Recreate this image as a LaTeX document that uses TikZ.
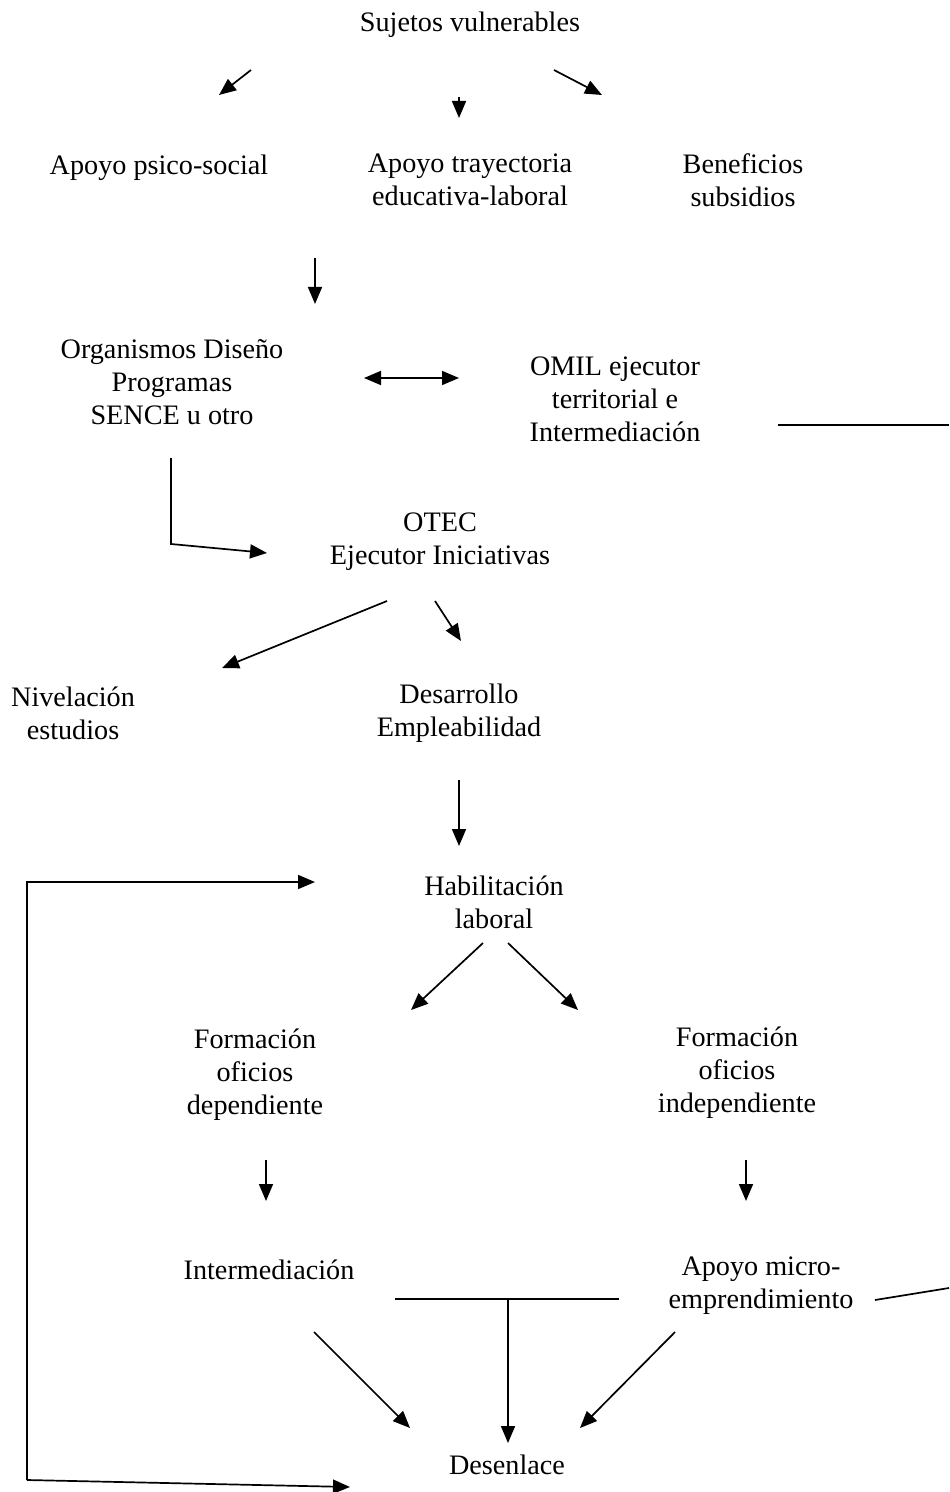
\documentclass[tikz,border=0pt]{standalone}
\usepackage{fontspec}
\setmainfont{Liberation Serif}
\usetikzlibrary{arrows.meta}
\begin{document}
\begin{tikzpicture}[x=0.5pt,y=-0.5pt,
  lbl/.style={align=center,inner sep=0pt,font=\fontsize{14.1pt}{16.5pt}\selectfont},
  conn/.style={line width=0.85pt},
  arr/.style={conn,-{Triangle[length=8.5pt,width=7pt]}},
  darr/.style={conn,{Triangle[length=8.5pt,width=7pt]}-{Triangle[length=8.5pt,width=7pt]}}]
\useasboundingbox (0,0) rectangle (949,1492);
% nodes
\node[lbl] (sv) at (470,25) {Sujetos vulnerables};
\node[lbl] (aps) at (159,168) {Apoyo psico-social};
\node[lbl] (ate) at (470,180) {Apoyo trayectoria\\educativa-laboral};
\node[lbl] (ben) at (743,180) {Beneficios\\subsidios};
\node[lbl] (org) at (172,382) {Organismos Diseño\\Programas\\SENCE u otro};
\node[lbl] (omil) at (615,399) {OMIL ejecutor\\territorial e\\Intermediación};
\node[lbl] (otec) at (440,542) {OTEC\\Ejecutor Iniciativas};
\node[lbl] (niv) at (73,713) {Nivelación\\estudios};
\node[lbl] (des) at (459,713) {Desarrollo\\Empleabilidad};
\node[lbl] (hab) at (494,902) {Habilitación\\laboral};
\node[lbl] (fod) at (255,1075) {Formación\\oficios\\dependiente};
\node[lbl] (foi) at (737,1073) {Formación\\oficios\\independiente};
\node[lbl] (int) at (269,1270) {Intermediación};
\node[lbl] (amic) at (761,1286) {Apoyo micro-\\emprendimiento};
\node[lbl] (dese) at (507,1465) {Desenlace};
% connector end points
\coordinate (a1s) at (251,70);  \coordinate (a1e) at (219,95);
\coordinate (a2s) at (459,97);  \coordinate (a2e) at (459,118);
\coordinate (a3s) at (554,70);  \coordinate (a3e) at (602,95);
\coordinate (a4s) at (315,258); \coordinate (a4e) at (315,304);
\coordinate (d1s) at (364,378); \coordinate (d1e) at (459,378);
\coordinate (r1s) at (778,425); \coordinate (r1e) at (949,425);
\coordinate (b1s) at (171,458); \coordinate (b1m) at (171,544); \coordinate (b1e) at (267,553);
\coordinate (a5s) at (387,601); \coordinate (a5e) at (222,668);
\coordinate (a6s) at (435,601); \coordinate (a6e) at (461,641);
\coordinate (a7s) at (459,780); \coordinate (a7e) at (459,846);
\coordinate (lt) at (27,882); \coordinate (lte) at (315,882);
\coordinate (lb) at (27,1480); \coordinate (lbe) at (350,1487);
\coordinate (a8s) at (483,943); \coordinate (a8e) at (411,1010);
\coordinate (a9s) at (508,943); \coordinate (a9e) at (578,1010);
\coordinate (a10s) at (266,1160); \coordinate (a10e) at (266,1201);
\coordinate (a11s) at (746,1160); \coordinate (a11e) at (746,1201);
\coordinate (hl) at (395,1299); \coordinate (hr) at (619,1299);
\coordinate (vm) at (508,1299); \coordinate (vme) at (508,1443);
\coordinate (a12s) at (314,1332); \coordinate (a12e) at (410,1428);
\coordinate (a13s) at (675,1332); \coordinate (a13e) at (580,1428);
\coordinate (r2s) at (875,1300); \coordinate (r2e) at (949,1288);
% connectors
\draw[arr] (a1s) -- (a1e);
\draw[arr] (a2s) -- (a2e);
\draw[arr] (a3s) -- (a3e);
\draw[arr] (a4s) -- (a4e);
\draw[darr] (d1s) -- (d1e);
\draw[conn] (r1s) -- (r1e);
\draw[arr] (b1s) -- (b1m) -- (b1e);
\draw[arr] (a5s) -- (a5e);
\draw[arr] (a6s) -- (a6e);
\draw[arr] (a7s) -- (a7e);
\draw[arr] (lb) -- (lt) -- (lte);
\draw[arr] (lb) -- (lbe);
\draw[arr] (a8s) -- (a8e);
\draw[arr] (a9s) -- (a9e);
\draw[arr] (a10s) -- (a10e);
\draw[arr] (a11s) -- (a11e);
\draw[conn] (hl) -- (hr);
\draw[arr] (vm) -- (vme);
\draw[arr] (a12s) -- (a12e);
\draw[arr] (a13s) -- (a13e);
\draw[conn] (r2s) -- (r2e);
\end{tikzpicture}
\end{document}
